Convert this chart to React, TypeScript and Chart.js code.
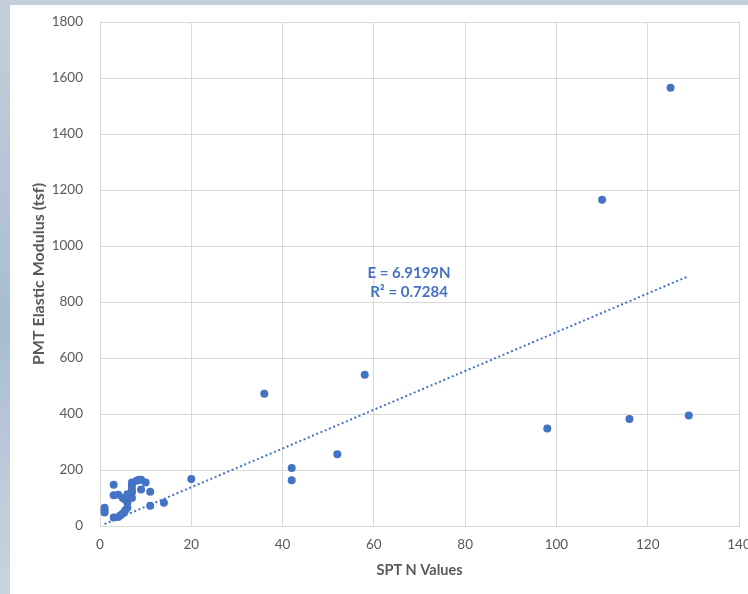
import React, { useEffect, useRef } from "react";
import { Chart, registerables } from "chart.js";

Chart.register(...registerables);

// SPT N values (x) and PMT elastic modulus in tsf (y)
const sptN: number[] = [
  1, 1, 1, 3, 3, 4, 3, 4, 4.5, 5, 5.5, 6, 6, 5.5, 5, 6.5, 6, 7, 7, 7, 7, 7, 8, 8.5, 9, 10, 9, 11, 11, 14,
  20, 36, 42, 42, 52, 58, 98, 110, 116, 125, 129,
];
const pmtModulus: number[] = [
  65, 55, 48, 147, 110, 112, 30, 32, 38, 45, 55, 65, 83, 95, 100, 105, 113, 120, 100, 130, 145, 155, 162, 165,
  165, 155, 130, 122, 72, 83, 168, 472, 207, 163, 256, 540, 348, 1165, 382, 1565, 395,
];

// Linear trendline through origin (as labelled)
const trendSlope = 6.9199;
const trendRange: number[] = [1, 129];
const trendLabel: string[] = ["E = 6.9199N", "R² = 0.7284"];
const trendLabelPos: number[][] = [
  [67.7, 902],
  [67.7, 834],
];

const xTitle = "SPT N Values";
const yTitle = "PMT Elastic Modulus (tsf)";

const FONT = 'Lato, "Open Sans", "Noto Sans", sans-serif';
const BLUE = "#4472C4";
const GREY_TEXT = "#595959";
const GRID = "#d9d9d9";

const annotationPlugin = {
  id: "trendAnnotation",
  afterDatasetsDraw(chart: any) {
    const { ctx, scales } = chart;
    ctx.save();
    ctx.fillStyle = BLUE;
    ctx.font = `bold 15px ${FONT}`;
    ctx.textAlign = "center";
    ctx.textBaseline = "middle";
    trendLabel.forEach((t, i) => {
      const x = scales.x.getPixelForValue(trendLabelPos[i][0]);
      const y = scales.y.getPixelForValue(trendLabelPos[i][1]);
      ctx.fillText(t, x, y);
    });
    ctx.restore();
  },
};

export default function App() {
  const canvasRef = useRef<HTMLCanvasElement | null>(null);

  useEffect(() => {
    if (!canvasRef.current) return;
    const points = sptN.map((x, i) => ({ x, y: pmtModulus[i] }));
    const trend = trendRange.map((x) => ({ x, y: x * trendSlope }));
    const chart = new Chart(canvasRef.current, {
      type: "scatter",
      data: {
        datasets: [
          {
            label: "PMT",
            data: points,
            backgroundColor: BLUE,
            borderColor: BLUE,
            pointRadius: 4,
            pointBorderWidth: 0,
            order: 1,
          },
          {
            label: "Trend",
            type: "line",
            data: trend,
            borderColor: BLUE,
            borderWidth: 2,
            borderDash: [2, 2.6],
            borderCapStyle: "butt",
            pointRadius: 0,
            fill: false,
            order: 2,
          } as any,
        ],
      },
      options: {
        animation: false,
        responsive: false,
        devicePixelRatio: 1,
        layout: { padding: { top: 17, right: 9, left: 0, bottom: 0 } },
        plugins: {
          legend: { display: false },
          tooltip: { enabled: false },
        },
        scales: {
          x: {
            type: "linear",
            min: 0,
            max: 140,
            ticks: {
              stepSize: 20,
              color: GREY_TEXT,
              font: { family: FONT, size: 13.5 },
              padding: 11,
              callback: (v: any) => String(v),
            },
            grid: { color: GRID, lineWidth: 1, drawTicks: false },
            border: { color: GRID },
            title: {
              display: true,
              text: xTitle,
              color: GREY_TEXT,
              font: { family: FONT, size: 14.5, weight: "bold" },
              padding: { top: 0, bottom: 15 },
            },
            afterFit(scale: any) {
              scale.height = 68;
              scale.paddingRight = 0;
              scale.paddingLeft = 0;
            },
          },
          y: {
            type: "linear",
            min: 0,
            max: 1800,
            ticks: {
              stepSize: 200,
              color: GREY_TEXT,
              font: { family: FONT, size: 13.5 },
              padding: 17,
              callback: (v: any) => String(v),
            },
            grid: { color: GRID, lineWidth: 1, drawTicks: false },
            border: { color: GRID },
            title: {
              display: true,
              text: yTitle,
              color: GREY_TEXT,
              font: { family: FONT, size: 16, weight: "bold" },
              padding: { top: 19, bottom: 0 },
            },
            afterFit(scale: any) {
              scale.width = 90;
              scale.paddingTop = 0;
              scale.paddingBottom = 0;
            },
          },
        },
      },
      plugins: [annotationPlugin],
    } as any);
    return () => chart.destroy();
  }, []);

  return (
    <div
      style={{
        position: "fixed",
        left: 0,
        top: 0,
        width: 748,
        height: 594,
        overflow: "hidden",
        background:
          "linear-gradient(180deg, #c3d0dc 0%, #b5c5d5 30%, #a9bccf 55%, #bccbda 80%, #c7d4e0 100%)",
      }}
    >
      <div
        style={{
          position: "absolute",
          left: 10,
          top: 5,
          width: 738,
          height: 589,
          background: "#ffffff",
        }}
      >
        <canvas ref={canvasRef} width={738} height={589} style={{ display: "block" }} />
      </div>
    </div>
  );
}
